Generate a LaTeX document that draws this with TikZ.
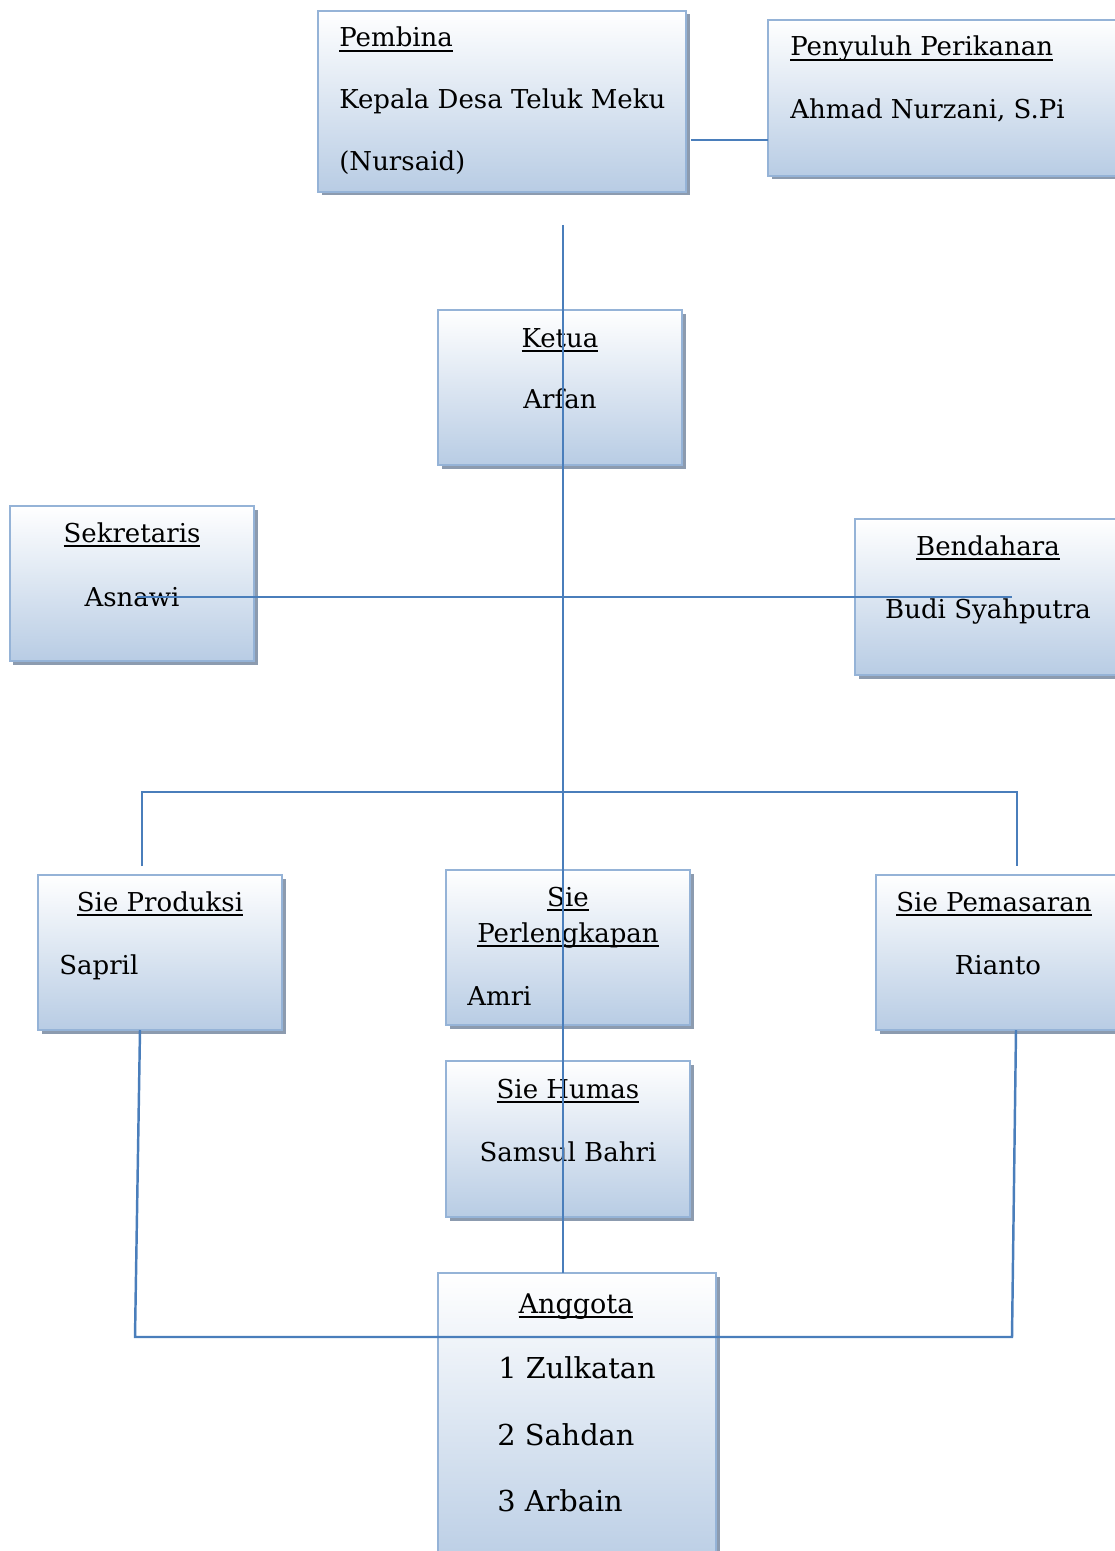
\documentclass[tikz,border=0pt]{standalone}
\usepackage{fontspec}
\setmainfont{DejaVu Serif}
\newcommand\ulthick[1]{\setbox0\hbox{#1}\rlap{\rule[-2.6pt]{\wd0}{0.95pt}}\box0}
\usetikzlibrary{shadows}
\definecolor{boxline}{RGB}{149,179,215}
\definecolor{boxbot}{RGB}{184,204,228}
\definecolor{shadowc}{RGB}{140,155,175}
\definecolor{connc}{RGB}{74,126,187}
\tikzset{
  orgbox/.style={draw=boxline, line width=1.3pt, top color=white, bottom color=boxbot,
    drop shadow={shadow xshift=0.07cm, shadow yshift=-0.07cm, fill=shadowc, opacity=1},
    inner sep=0pt, outer sep=0pt},
  lbl/.style={anchor=base, inner sep=0pt, font=\fontsize{14.8}{16}\selectfont},
  lbll/.style={lbl, anchor=base west},
  biglbl/.style={lbl, font=\fontsize{15.4}{18}\selectfont},
  bigl/.style={lbll, font=\fontsize{16.4}{18}\selectfont},
  connline/.style={draw=connc, line width=1.4pt},
}
\newcommand\obox[5]{\node[orgbox, minimum width={(#4-#2)*0.02cm}, minimum height={(#5-#3)*0.02cm}] (#1) at ({(#2+#4)/2},{(#3+#5)/2}) {};}
\begin{document}
\begin{tikzpicture}[x=0.02cm,y=-0.02cm]
\clip (0,0) rectangle (1115,1551);
% boxes
\obox{pembina}{318}{11}{686}{192}
\obox{penyuluh}{768}{20}{1135}{176}
\obox{ketua}{438}{310}{682}{465}
\obox{sekretaris}{10}{506}{254}{661}
\obox{bendahara}{855}{519}{1135}{675}
\obox{produksi}{38}{875}{282}{1030}
\obox{perlengkapan}{446}{870}{690}{1025}
\obox{pemasaran}{876}{875}{1135}{1030}
\obox{humas}{446}{1061}{690}{1217}
\obox{anggota}{438}{1273}{716}{1575}
% texts
\node[lbll] (tpembina) at (339,47) {\ulthick{Pembina}};
\node[lbll] (tkades) at (339,109) {Kepala Desa Teluk Meku};
\node[lbll] (tnursaid) at (339,171) {(Nursaid)};
\node[lbll] (tpenyuluh) at (790,56) {\ulthick{Penyuluh Perikanan}};
\node[lbll] (tahmad) at (790,119) {Ahmad Nurzani, S.Pi};
\node[lbl] (tketua) at (560,347) {\ulthick{Ketua}};
\node[lbl] (tarfan) at (560,408) {Arfan};
\node[lbl] (tsekretaris) at (132,542) {\ulthick{Sekretaris}};
\node[lbl] (tasnawi) at (132,606) {Asnawi};
\node[lbl] (tbendahara) at (988,555) {\ulthick{Bendahara}};
\node[lbl] (tbudi) at (988,618) {Budi Syahputra};
\node[lbl] (tproduksi) at (160,911) {\ulthick{Sie Produksi}};
\node[lbll] (tsapril) at (59,974) {Sapril};
\node[lbl] (tsie) at (568,906) {\ulthick{Sie}};
\node[lbl] (tperlengkapan) at (568,942) {\ulthick{Perlengkapan}};
\node[lbll] (tamri) at (467,1005) {Amri};
\node[lbl] (tpemasaran) at (994,911) {\ulthick{Sie Pemasaran}};
\node[lbl] (trianto) at (998,974) {Rianto};
\node[lbl] (thumas) at (568,1098) {\ulthick{Sie Humas}};
\node[lbl] (tsamsul) at (568,1161) {Samsul Bahri};
\node[biglbl] (tanggota) at (576,1313) {\ulthick{Anggota}};
\node[bigl] (tzul) at (498,1378) {1 Zulkatan};
\node[bigl] (tsah) at (497,1445) {2 Sahdan};
\node[bigl] (tarb) at (497,1511) {3 Arbain};
% connector points
\coordinate (pbR) at (691,140);
\coordinate (vtop) at (563,225);
\coordinate (sekL) at (137,597);
\coordinate (benR) at (1012,597);
\coordinate (hL) at (142,792);
\coordinate (hR) at (1017,792);
\coordinate (prodTop) at (142,866);
\coordinate (pemTop) at (1017,866);
\coordinate (prodBot) at (140,1030);
\coordinate (pemBot) at (1016,1030);
\coordinate (bL) at (135,1337);
\coordinate (bR) at (1012,1337);
% connectors
\draw[connline] (pbR) -- (pbR -| penyuluh.west);
\draw[connline] (vtop) -- (vtop |- anggota.north);
\draw[connline] (sekL) -- (benR);
\draw[connline] (prodTop) -- (hL) -- (hR) -- (pemTop);
\draw[connline] (prodBot) -- (bL) -- (bR) -- (pemBot);
\end{tikzpicture}
\end{document}
